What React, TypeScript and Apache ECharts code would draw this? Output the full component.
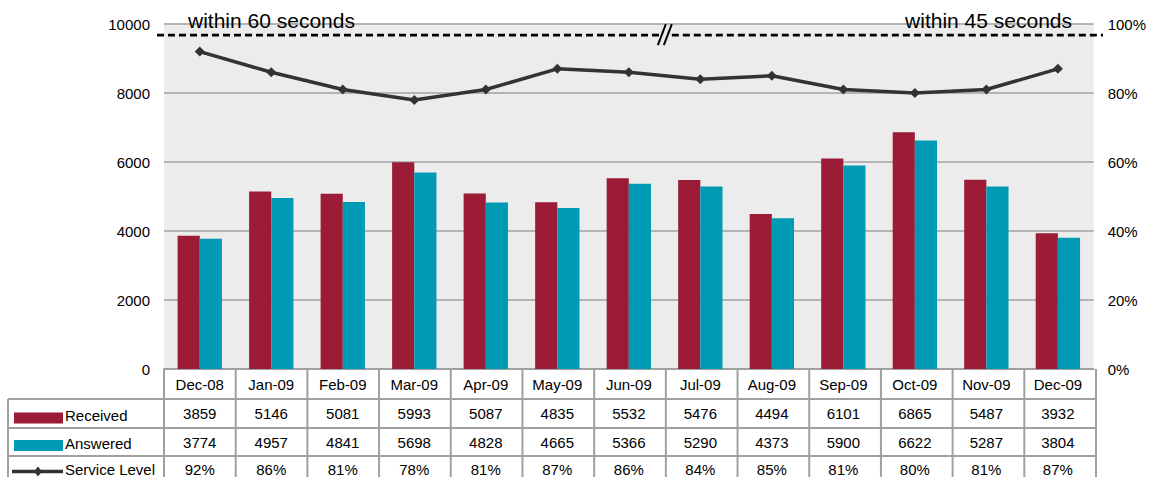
import React, { useEffect, useRef } from "react";
import * as echarts from "echarts";

// Monthly call-centre figures
const months = ["Dec-08", "Jan-09", "Feb-09", "Mar-09", "Apr-09", "May-09", "Jun-09", "Jul-09", "Aug-09", "Sep-09", "Oct-09", "Nov-09", "Dec-09"];
const received = [3859, 5146, 5081, 5993, 5087, 4835, 5532, 5476, 4494, 6101, 6865, 5487, 3932];
const answered = [3774, 4957, 4841, 5698, 4828, 4665, 5366, 5290, 4373, 5900, 6622, 5287, 3804];
const serviceLevel = [92, 86, 81, 78, 81, 87, 86, 84, 85, 81, 80, 81, 87];

// Axis ranges
const callsAxis = { min: 0, max: 10000, interval: 2000 };
const levelAxis = { min: 0, max: 100, interval: 20 };

// Target band annotations
const targetLabels = ["within 60 seconds", "within 45 seconds"];
const targetLevel = 96.8;
// the target changes between Jun-09 and Jul-09
const targetBreakAfter = 6;

const seriesNames = ["Received", "Answered", "Service Level"];

const W = 1149;
const H = 477;
const GRID_L = 164;
const GRID_R = 1096;
const GRID_T = 24;
const GRID_B = 369;
const ROWS = [369, 399, 428, 456, 485];
const RED = "#9c1b35";
const TEAL = "#009ab5";
const LINE = "#333333";
const BORDER = "#a0a0a0";
const FONT = "'Liberation Sans', Arial, sans-serif";

export default function App() {
  const ref = useRef<HTMLDivElement>(null);

  useEffect(() => {
    if (!ref.current) return;
    const chart = echarts.init(ref.current, null, { renderer: "svg" });

    const option: any = {
      animation: false,
      backgroundColor: "#ffffff",
      textStyle: { fontFamily: FONT },
      grid: {
        left: GRID_L,
        right: W - GRID_R,
        top: GRID_T,
        bottom: H - GRID_B,
        show: true,
        backgroundColor: "#ececec",
        borderWidth: 0,
      },
      xAxis: {
        type: "category",
        data: months,
        axisLine: { show: true, lineStyle: { color: BORDER, width: 2 } },
        axisTick: { show: false },
        axisLabel: {
          color: "#000",
          fontSize: 15,
          fontFamily: FONT,
          margin: 15,
          verticalAlign: "middle",
        },
      },
      yAxis: [
        {
          type: "value",
          ...callsAxis,
          axisLine: { show: false },
          axisTick: { show: false },
          axisLabel: { color: "#000", fontSize: 15, fontFamily: FONT, margin: 14, formatter: (v: number) => String(v) },
          splitLine: { lineStyle: { color: "#b4b4b4", width: 2 } },
        },
        {
          type: "value",
          ...levelAxis,
          axisLine: { show: false },
          axisTick: { show: false },
          axisLabel: { color: "#000", fontSize: 15, fontFamily: FONT, margin: 14, formatter: "{value}%" },
          splitLine: { show: false },
        },
      ],
      series: [
        {
          name: seriesNames[0],
          type: "bar",
          data: received,
          barWidth: "31%",
          barGap: "0%",
          itemStyle: { color: RED },
        },
        {
          name: seriesNames[1],
          type: "bar",
          data: answered,
          barWidth: "31%",
          barGap: "0%",
          itemStyle: { color: TEAL },
        },
        {
          name: seriesNames[2],
          type: "line",
          yAxisIndex: 1,
          data: serviceLevel,
          symbol: "diamond",
          symbolSize: 10,
          lineStyle: { color: LINE, width: 3.5 },
          itemStyle: { color: LINE },
          z: 5,
        },
      ],
    };
    chart.setOption(option);

    // Positions taken from the chart's own scales
    const colW = (GRID_R - GRID_L) / months.length;
    const targetY = chart.convertToPixel({ yAxisIndex: 1 }, targetLevel) as number;
    const breakX = GRID_L + colW * targetBreakAfter + colW / 2 + colW / 2;

    const g: any[] = [];
    const dash = { stroke: "#000", lineWidth: 2.8, lineDash: [7, 4] };
    g.push({ type: "line", shape: { x1: 157, y1: targetY, x2: breakX - 6, y2: targetY }, style: dash, z: 10 });
    g.push({ type: "line", shape: { x1: breakX + 6, y1: targetY, x2: 1103, y2: targetY }, style: dash, z: 10 });
    g.push({ type: "line", shape: { x1: breakX - 8, y1: targetY + 10, x2: breakX, y2: targetY - 11 }, style: { stroke: "#000", lineWidth: 2 }, z: 10 });
    g.push({ type: "line", shape: { x1: breakX - 2, y1: targetY + 10, x2: breakX + 6, y2: targetY - 11 }, style: { stroke: "#000", lineWidth: 2 }, z: 10 });
    g.push({
      type: "text",
      style: { x: 188, y: 20, text: targetLabels[0], font: `21px ${FONT}`, fill: "#000", textAlign: "left", align: "left", textVerticalAlign: "middle", verticalAlign: "middle" },
      z: 10,
    });
    g.push({
      type: "text",
      style: { x: 1072, y: 20, text: targetLabels[1], font: `21px ${FONT}`, fill: "#000", textAlign: "right", align: "right", textVerticalAlign: "middle", verticalAlign: "middle" },
      z: 10,
    });

    // Data table grid lines
    const border = { stroke: BORDER, lineWidth: 2 };
    for (let r = 1; r < ROWS.length; r++) {
      g.push({ type: "line", shape: { x1: 8, y1: ROWS[r], x2: GRID_R, y2: ROWS[r] }, style: border, z: 3 });
    }
    g.push({ type: "line", shape: { x1: 8, y1: ROWS[1], x2: 8, y2: H }, style: border, z: 3 });
    for (let i = 0; i <= months.length; i++) {
      const x = GRID_L + colW * i;
      g.push({ type: "line", shape: { x1: x, y1: ROWS[0], x2: x, y2: H }, style: border, z: 3 });
    }

    // Row keys
    const rowMid = (r: number) => (ROWS[r] + ROWS[r + 1]) / 2;
    g.push({ type: "rect", shape: { x: 14, y: rowMid(1) - 1, width: 49, height: 11 }, style: { fill: RED }, z: 4 });
    g.push({ type: "rect", shape: { x: 14, y: rowMid(2) - 2, width: 49, height: 11 }, style: { fill: TEAL }, z: 4 });
    g.push({ type: "line", shape: { x1: 12, y1: rowMid(3) + 1, x2: 63, y2: rowMid(3) + 1 }, style: { stroke: LINE, lineWidth: 3.5 }, z: 4 });
    g.push({
      type: "polygon",
      shape: { points: [[38, rowMid(3) - 4], [42, rowMid(3) + 1], [38, rowMid(3) + 6], [34, rowMid(3) + 1]] },
      style: { fill: LINE },
      z: 4,
    });
    const keyY = [rowMid(1) + 2, rowMid(2) + 1, rowMid(3) - 1];
    for (let r = 0; r < 3; r++) {
      g.push({
        type: "text",
        style: { x: 65, y: keyY[r], text: seriesNames[r], font: `15px ${FONT}`, fill: "#000", textAlign: "left", align: "left", textVerticalAlign: "middle", verticalAlign: "middle" },
        z: 4,
      });
    }

    // Table values
    const rowsData = [received.map(String), answered.map(String), serviceLevel.map((v) => `${v}%`)];
    for (let r = 0; r < 3; r++) {
      rowsData[r].forEach((txt, i) => {
        const cx = chart.convertToPixel({ xAxisIndex: 0 }, i) as number;
        g.push({
          type: "text",
          style: { x: cx, y: rowMid(r + 1) - (r === 2 ? 1 : 0), text: txt, font: `15px ${FONT}`, fill: "#000", textAlign: "center", align: "center", textVerticalAlign: "middle", verticalAlign: "middle" },
          z: 4,
        });
      });
    }

    chart.setOption({ graphic: g });

    return () => chart.dispose();
  }, []);

  return <div ref={ref} style={{ position: "fixed", left: 0, top: 0, width: W, height: H }} />;
}
